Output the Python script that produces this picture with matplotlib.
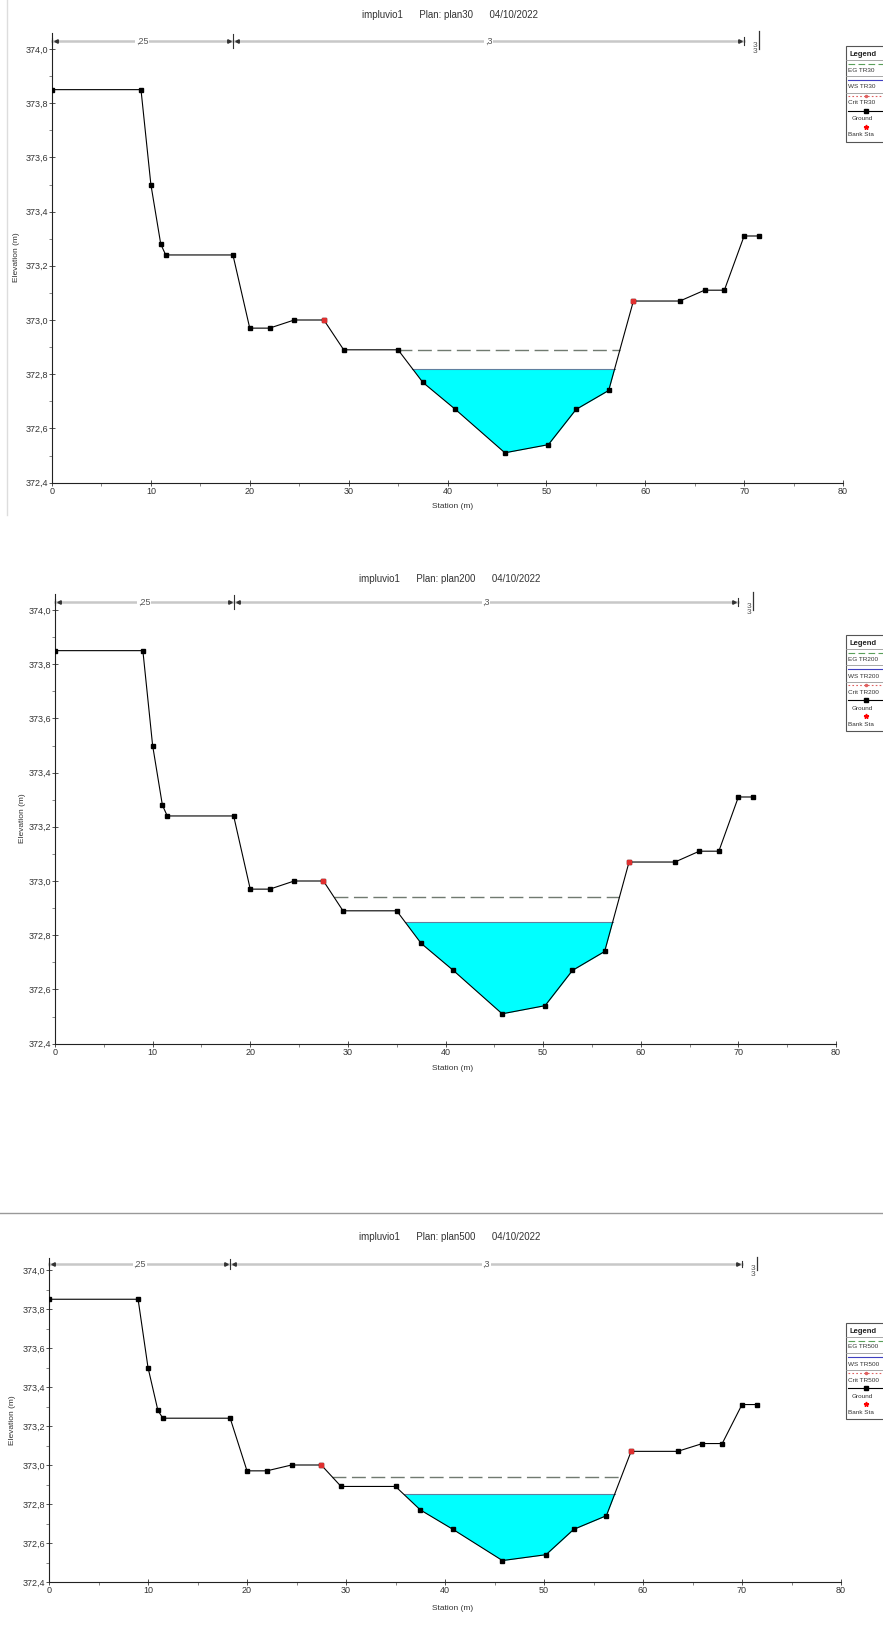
import numpy as np
import matplotlib.pyplot as plt
from matplotlib.lines import Line2D
from matplotlib.patches import Rectangle
from matplotlib.ticker import FuncFormatter, MultipleLocator

plt.rcParams["font.family"] = ["Liberation Sans", "DejaVu Sans"]

# Ground profile (station m, elevation m)
stations = [0, 9, 10, 11, 11.5, 18.3, 20, 22, 24.5, 27.5, 29.5, 35, 37.5,
            40.8, 45.8, 50.2, 53, 56.3, 58.8, 63.5, 66, 68, 70, 71.5]
ground = [373.85, 373.85, 373.50, 373.28, 373.24, 373.24, 372.97, 372.97,
          373.00, 373.00, 372.89, 372.89, 372.77, 372.67, 372.51, 372.54,
          372.67, 372.74, 373.07, 373.07, 373.11, 373.11, 373.31, 373.31]
bank_sta = [27.5, 58.8]

# Manning's n segments
n_breaks = [0, 18.3, 70, 71.5]
n_labels = [",25", ",3", "3\n3"]

plans = ["plan30", "plan200", "plan500"]
profiles = ["TR30", "TR200", "TR500"]
ws_elev = [372.82, 372.85, 372.85]
eg_elev = [372.89, 372.94, 372.94]

W, H = 883, 1644
# panel layout in pixels
panels = [
    dict(left=52, right=843, y374=49, ppm=271, title=15, leg=46, xlab=507, ylab=16),
    dict(left=55, right=836, y374=610, ppm=271, title=579, leg=635, xlab=1068, ylab=23),
    dict(left=49, right=841, y374=1270, ppm=195, title=1237, leg=1323, xlab=1608, ylab=13),
]

fig = plt.figure(figsize=(W / 100, H / 100), dpi=100)
fig.patch.set_facecolor("white")

st = np.array(stations)
gr = np.array(ground)


def crossings(level):
    """left and right stations where a level meets the ground around the channel"""
    i0 = np.argmin(gr)
    left = st[:i0 + 1][::-1]
    lg = gr[:i0 + 1][::-1]
    j = np.argmax(lg >= level)
    xl = np.interp(level, [lg[j - 1], lg[j]], [left[j - 1], left[j]])
    right = st[i0:]
    rg = gr[i0:]
    k = np.argmax(rg >= level)
    xr = np.interp(level, [rg[k - 1], rg[k]], [right[k - 1], right[k]])
    return xl, xr


def fy(py):
    return 1 - py / H


def legend_box(x, top, prof):
    tr = fig.transFigure
    h = 96
    fig.patches.append(Rectangle((x / W, fy(top + h)), 60 / W, h / H, transform=tr,
                                 facecolor="white", edgecolor="#555555", lw=0.8))
    fs = 4.6
    tc = "#333333"
    fig.text((x + 3) / W, fy(top + 8), "Legend", fontsize=5.5, fontweight="bold",
             va="center", color="#222222")
    for sep in [14, 30, 47]:
        fig.add_artist(Line2D([x / W, (x + 60) / W], [fy(top + sep), fy(top + sep)],
                              transform=tr, color="#999999", lw=0.6))
    fig.add_artist(Line2D([(x + 2) / W, (x + 40) / W], [fy(top + 18)] * 2, transform=tr,
                          color="#5aa05a", lw=0.8, ls=(0, (6, 3))))
    fig.text((x + 2) / W, fy(top + 24), "EG " + prof, fontsize=fs, va="center", color=tc)
    fig.add_artist(Line2D([(x + 2) / W, (x + 40) / W], [fy(top + 34)] * 2, transform=tr,
                          color="#4040c0", lw=0.8))
    fig.text((x + 2) / W, fy(top + 41), "WS " + prof, fontsize=fs, va="center", color=tc)
    fig.add_artist(Line2D([(x + 2) / W, (x + 40) / W], [fy(top + 50)] * 2, transform=tr,
                          color="#e06060", lw=0.8, ls=(0, (1.5, 2))))
    fig.add_artist(Line2D([(x + 20) / W], [fy(top + 50)], transform=tr, color="#e06060",
                          marker="o", markersize=1.5, lw=0))
    fig.text((x + 2) / W, fy(top + 57), "Crit " + prof, fontsize=fs, va="center", color=tc)
    fig.add_artist(Line2D([(x + 2) / W, (x + 40) / W], [fy(top + 65)] * 2,
                          transform=tr, color="black", lw=0.8))
    fig.add_artist(Line2D([(x + 20) / W], [fy(top + 65)], transform=tr, color="black",
                          marker="s", markersize=2.5, lw=0))
    fig.text((x + 6) / W, fy(top + 73), "Ground", fontsize=fs, va="center", color=tc)
    fig.add_artist(Line2D([(x + 20) / W], [fy(top + 81)], transform=tr, color="red",
                          marker="*", markersize=3.5, lw=0))
    fig.text((x + 2) / W, fy(top + 89), "Bank Sta", fontsize=fs, va="center", color=tc)


for p, plan, prof, ws, eg in zip(panels, plans, profiles, ws_elev, eg_elev):
    ytop = 374.06
    px_top = p["y374"] - (ytop - 374.0) * p["ppm"]
    px_bot = p["y374"] + 1.6 * p["ppm"]
    ax = fig.add_axes([p["left"] / W, fy(px_bot), (p["right"] - p["left"]) / W,
                       (px_bot - px_top) / H])
    ax.set_xlim(0, 80)
    ax.set_ylim(372.4, ytop)
    for s in ["top", "right"]:
        ax.spines[s].set_visible(False)
    for s in ["left", "bottom"]:
        ax.spines[s].set_linewidth(0.8)
        ax.spines[s].set_color("#222222")
    ax.set_facecolor("none")

    # water surface
    xl, xr = crossings(ws)
    ax.fill_between(st, gr, ws, where=gr <= ws, interpolate=True, color="#00ffff", lw=0)
    ax.plot([xl, xr], [ws, ws], color="#6080a0", lw=0.8)
    # energy grade
    el, er = crossings(eg)
    ax.plot([el, er], [eg, eg], color="#707a70", lw=1.0, dashes=(10, 4))
    # ground
    ax.plot(st, gr, color="black", lw=0.8, marker="s", markersize=2.8, zorder=4)
    bank_el = np.interp(bank_sta, st, gr)
    ax.plot(bank_sta, bank_el, ls="none", marker="s", markersize=3, color="#e03030", zorder=5)

    # Manning's n bar
    yb = 374.03
    ax.plot([n_breaks[0], n_breaks[2]], [yb, yb], color="#c8c8c8", lw=1.8, zorder=2,
            clip_on=False)
    for a, b, lab in zip(n_breaks[:-1], n_breaks[1:], n_labels):
        if b - a > 5:
            ax.plot([a + 0.4], [yb], marker="<", color="#333333", markersize=2.5, clip_on=False)
            ax.plot([b - 0.4], [yb], marker=">", color="#333333", markersize=2.5, clip_on=False)
            ax.text((a + b) / 2, yb, lab, fontsize=6.5, ha="center", va="center",
                    color="#555555", bbox=dict(facecolor="white", edgecolor="none", pad=0.5))
        else:
            ax.text(b - 0.4, yb - 0.004, lab, fontsize=6, ha="center", va="top",
                    color="#555555", linespacing=0.85)
    ax.plot([0, 0], [yb - 0.012, yb + 0.012], color="#333333", lw=0.8, clip_on=False)
    ax.plot([18.3, 18.3], [yb - 0.025, yb + 0.025], color="#333333", lw=0.8, clip_on=False)
    ax.plot([70, 70], [yb - 0.015, yb + 0.015], color="#333333", lw=0.8, clip_on=False)
    ax.plot([71.5, 71.5], [374.0, ytop + 0.005], color="#333333", lw=0.9, clip_on=False)

    ax.xaxis.set_major_locator(MultipleLocator(10))
    ax.xaxis.set_minor_locator(MultipleLocator(5))
    ax.yaxis.set_major_locator(MultipleLocator(0.2))
    ax.yaxis.set_minor_locator(MultipleLocator(0.1))
    ax.yaxis.set_major_formatter(FuncFormatter(lambda v, pos: f"{v:.1f}".replace(".", ",")))
    ax.tick_params(which="major", direction="inout", length=4, width=0.6, labelsize=6.5,
                   colors="#333333", pad=1)
    ax.tick_params(which="minor", direction="out", length=2, width=0.5, colors="#555555")

    fig.text(453 / W, fy(p["xlab"]), "Station (m)", fontsize=6, color="#333333",
             ha="center", va="center")
    fig.text(p["ylab"] / W, fy((px_top + px_bot) / 2), "Elevation (m)", fontsize=6,
             color="#333333", ha="center", va="center", rotation=90)
    fig.text(450 / W, fy(p["title"]), f"impluvio1      Plan: {plan}      04/10/2022",
             fontsize=7, ha="center", va="center", color="#333333")
    legend_box(846, p["leg"], prof)

# screenshot borders
fig.add_artist(Line2D([7 / W, 7 / W], [fy(0), fy(515)], transform=fig.transFigure,
                      color="#dddddd", lw=1))
fig.add_artist(Line2D([0, 1], [fy(1213), fy(1213)], transform=fig.transFigure,
                      color="#999999", lw=1))

fig.savefig("out.png", dpi=100)
